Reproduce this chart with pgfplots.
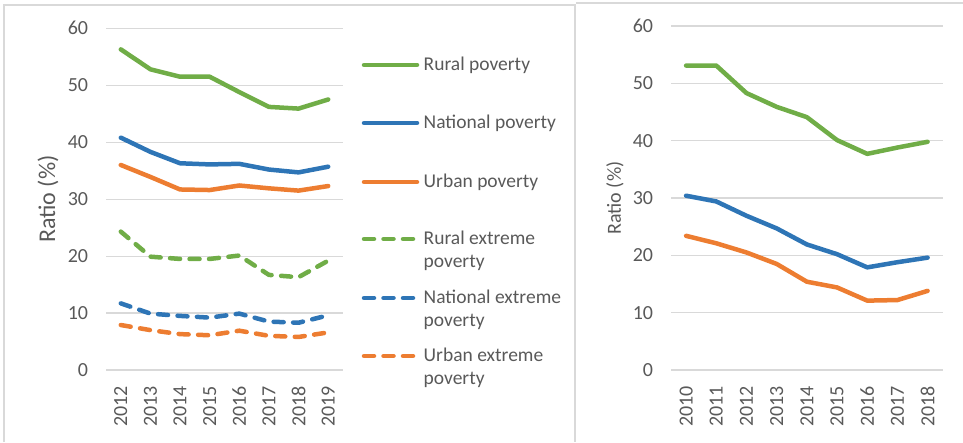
\documentclass[border=0pt]{standalone}
\usepackage{pgfplots}
\pgfplotsset{compat=1.18}
\usepackage{fontspec}
\setmainfont{Carlito}
\definecolor{cgreen}{HTML}{70AD47}
\definecolor{cblue}{HTML}{2E75B6}
\definecolor{corange}{HTML}{ED7D31}
\definecolor{txt}{HTML}{595959}
\definecolor{gridgray}{HTML}{D9D9D9}
\definecolor{framegray}{HTML}{D9D9D9}
\tikzset{
  sol/.style={line width=4.5pt, line join=round, line cap=round},
  das/.style={line width=4.5pt, line join=round, line cap=round, dash pattern=on 10pt off 9.5pt},
}
\pgfplotsset{
  myaxis/.style={
    anchor=south west, scale only axis,
    ymin=0, ymax=60, ytick={0,10,...,60},
    axis line style={draw=none}, tick style={draw=none},
    ymajorgrids, grid style={gridgray, line width=1.2pt},
    /pgf/number format/assume math mode=true,
    tick label style={font=\fontsize{20}{24}\selectfont, text=txt},
    yticklabel style={inner sep=0pt, anchor=east},
    yticklabel shift=17.7pt,
    xticklabel style={rotate=90, anchor=east, inner sep=0pt},
    xticklabel shift=16pt,
    xtick=data,
    clip=false,
  },
}
\pgfplotstableread{
x rural national urban rext next uext
0 56.3 40.8 36.0 24.3 11.7 7.9
1 52.8 38.3 33.9 19.9 9.9 7.0
2 51.5 36.3 31.7 19.5 9.5 6.3
3 51.5 36.1 31.6 19.5 9.2 6.1
4 48.8 36.2 32.4 20.1 9.9 6.9
5 46.2 35.2 31.9 16.7 8.5 6.0
6 45.9 34.7 31.5 16.3 8.3 5.8
7 47.5 35.7 32.3 19.2 9.6 6.6
}\lefttab
\pgfplotstableread{
x rural national urban
0 53.1 30.4 23.4
1 53.1 29.4 22.1
2 48.3 26.9 20.5
3 45.9 24.7 18.5
4 44.1 21.9 15.4
5 40.1 20.2 14.4
6 37.7 17.9 12.1
7 38.8 18.8 12.2
8 39.8 19.6 13.8
}\righttab
\begin{document}
\begin{tikzpicture}[x=1pt,y=1pt]
\useasboundingbox (0,0) rectangle (963,442);
\draw[framegray, line width=1.2pt] (4,0) -- (4,437) -- (575,437) -- (575,0);
\draw[framegray, line width=1.2pt] (576,439) -- (963,439);
\begin{axis}[myaxis, at={(106pt,72pt)}, width=237pt, height=341.7pt,
  xmin=-0.5, xmax=7.5,
  xticklabels={2012,2013,2014,2015,2016,2017,2018,2019},
  ylabel={Ratio (\%)},
  ylabel style={at={(axis description cs:-0.245,0.5)}, anchor=center, font=\fontsize{24}{28}\selectfont, text=txt},
]
\addplot[sol, cgreen] table[x=x, y=rural] {\lefttab};
\addplot[sol, cblue] table[x=x, y=national] {\lefttab};
\addplot[sol, corange] table[x=x, y=urban] {\lefttab};
\addplot[das, cgreen] table[x=x, y=rext] {\lefttab};
\addplot[das, cblue] table[x=x, y=next] {\lefttab};
\addplot[das, corange] table[x=x, y=uext] {\lefttab};
\end{axis}
% legend
\begin{scope}[font=\fontsize{19.5}{23}\selectfont, every node/.style={text=txt, inner sep=0pt, anchor=base west}]
\draw[sol, cgreen] (364,377) -- (417,377);
\node at (423.5,371.3) {Rural poverty};
\draw[sol, cblue] (364,319) -- (417,319);
\node at (423.5,313.3) {National poverty};
\draw[sol, corange] (364,260) -- (417,260);
\node at (423.5,254.3) {Urban poverty};
\draw[das, cgreen] (364,203) -- (419,203);
\node at (423.5,197.5) {Rural extreme};
\node at (423.5,174.5) {poverty};
\draw[das, cblue] (364,144) -- (419,144);
\node at (423.5,138.5) {National extreme};
\node at (423.5,115.5) {poverty};
\draw[das, corange] (364,86) -- (419,86);
\node at (423.5,80.5) {Urban extreme};
\node at (423.5,57.5) {poverty};
\end{scope}
\begin{axis}[myaxis, at={(671pt,72pt)}, width=271.7pt, height=344pt,
  xmin=-0.5, xmax=8.5,
  xticklabels={2010,2011,2012,2013,2014,2015,2016,2017,2018},
  ylabel={Ratio (\%)},
  ylabel style={at={(axis description cs:-0.206,0.5)}, anchor=center, font=\fontsize{20}{24}\selectfont, text=txt},
]
\addplot[sol, cgreen] table[x=x, y=rural] {\righttab};
\addplot[sol, cblue] table[x=x, y=national] {\righttab};
\addplot[sol, corange] table[x=x, y=urban] {\righttab};
\end{axis}
\end{tikzpicture}
\end{document}
